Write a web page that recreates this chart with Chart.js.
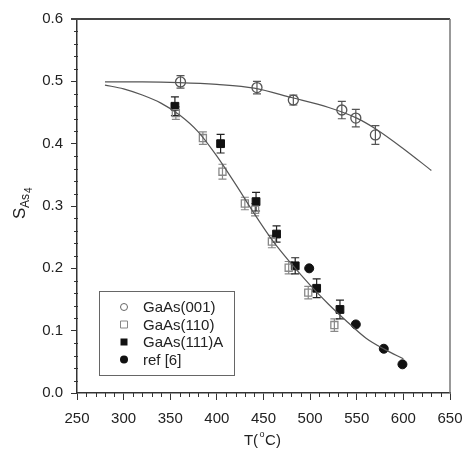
<!DOCTYPE html>
<html>
<head>
<meta charset="utf-8">
<script src="https://cdn.jsdelivr.net/npm/chart.js@4"></script>
<style>
    html, body { margin: 0; padding: 0; background: #fff; }
    canvas { display: block; }
</style>
</head>
<body>
<canvas id="sticking" width="462" height="450"></canvas>
<script>
// GaAs(001)
const t001 = [361, 443, 482, 534, 549, 570];
const s001 = [0.499, 0.490, 0.470, 0.454, 0.441, 0.414];
const err001 = [0.010, 0.010, 0.008, 0.014, 0.014, 0.015];

// GaAs(110)
const t110 = [356, 385, 406, 430, 441, 459, 477, 498, 526];
const s110 = [0.449, 0.409, 0.355, 0.304, 0.294, 0.243, 0.201, 0.161, 0.109];
const err110 = [0.010, 0.010, 0.012, 0.010, 0.010, 0.010, 0.010, 0.010, 0.010];

// GaAs(111)A
const t111 = [355, 404, 442, 464, 484, 507, 532];
const s111 = [0.460, 0.400, 0.307, 0.255, 0.204, 0.168, 0.134];
const err111 = [0.015, 0.015, 0.015, 0.013, 0.013, 0.015, 0.015];

// ref [6]
const tRef = [499, 549, 579, 599];
const sRef = [0.200, 0.110, 0.071, 0.046];

// fitted curves
const fitUpperT = [280, 320, 360, 400, 440, 480, 520, 550, 570, 600, 630];
const fitUpperS = [0.499, 0.499, 0.498, 0.495, 0.489, 0.474, 0.458, 0.441, 0.424, 0.392, 0.357];
const fitLowerT = [280, 300, 320, 340, 360, 380, 400, 420, 440, 460, 480, 500, 520, 540, 560, 580, 600];
const fitLowerS = [0.494, 0.488, 0.478, 0.465, 0.446, 0.419, 0.380, 0.335, 0.288, 0.244, 0.207, 0.173, 0.142, 0.114, 0.088, 0.070, 0.055];

const xTicks = [250, 300, 350, 400, 450, 500, 550, 600, 650];
const yTicks = [0.0, 0.1, 0.2, 0.3, 0.4, 0.5, 0.6];

const FONT = "'Liberation Sans', Arial, Helvetica, sans-serif";
const INK = "#222";

function pts(xs, ys) {
    return xs.map((x, i) => ({ x: x, y: ys[i] }));
}

// vertical error bars with caps, drawn underneath the markers
const errorBars = {
    id: "errorBars",
    beforeDatasetsDraw(chart) {
        const ctx = chart.ctx;
        const xs = chart.scales.x, ys = chart.scales.y;
        chart.data.datasets.forEach(ds => {
            if (!ds.errors) return;
            ctx.save();
            ctx.strokeStyle = ds.errorColor;
            ctx.lineWidth = 1.2;
            ds.data.forEach((p, i) => {
                const px = xs.getPixelForValue(p.x);
                const top = ys.getPixelForValue(p.y + ds.errors[i]);
                const bot = ys.getPixelForValue(p.y - ds.errors[i]);
                ctx.beginPath();
                ctx.moveTo(px, top); ctx.lineTo(px, bot);
                ctx.moveTo(px - 4, top); ctx.lineTo(px + 4, top);
                ctx.moveTo(px - 4, bot); ctx.lineTo(px + 4, bot);
                ctx.stroke();
            });
            ctx.restore();
        });
    }
};

// frame, minor ticks, axis titles and legend box
const decorations = {
    id: "decorations",
    afterDraw(chart) {
        const ctx = chart.ctx;
        const a = chart.chartArea;
        const xs = chart.scales.x, ys = chart.scales.y;
        ctx.save();

        // top and right frame
        ctx.strokeStyle = "#444";
        ctx.lineWidth = 2;
        ctx.beginPath();
        ctx.moveTo(a.left - 6, a.top); ctx.lineTo(a.right, a.top);
        ctx.stroke();
        ctx.strokeStyle = "#777";
        ctx.lineWidth = 1.5;
        ctx.beginPath();
        ctx.moveTo(a.right, a.top); ctx.lineTo(a.right, a.bottom);
        ctx.stroke();

        // minor ticks
        ctx.strokeStyle = "#333";
        ctx.lineWidth = 1;
        ctx.beginPath();
        for (let v = 260; v < 650; v += 10) {
            if (v % 50 === 0) continue;
            const px = Math.round(xs.getPixelForValue(v)) + 0.5;
            ctx.moveTo(px, a.bottom); ctx.lineTo(px, a.bottom + 4);
        }
        for (let k = 1; k < 30; k++) {
            if (k % 5 === 0) continue;
            const py = Math.round(ys.getPixelForValue(k * 0.02)) + 0.5;
            ctx.moveTo(a.left - 3, py); ctx.lineTo(a.left + 1, py);
        }
        ctx.stroke();

        // y title: S with As4 subscript
        ctx.fillStyle = "#222";
        ctx.translate(25, 206);
        ctx.rotate(-Math.PI / 2);
        ctx.textBaseline = "alphabetic";
        ctx.font = "17px " + FONT;
        ctx.fillText("S", -13, 0);
        ctx.font = "12px " + FONT;
        ctx.fillText("As", -2, 4);
        ctx.font = "10px " + FONT;
        ctx.fillText("4", 13, 7);
        ctx.setTransform(1, 0, 0, 1, 0, 0);

        // x title
        ctx.font = "15px " + FONT;
        ctx.textAlign = "center";
        ctx.fillText("T(", 251, 445);
        ctx.fillText("C)", 273, 445);
        ctx.font = "9px " + FONT;
        ctx.fillText("o", 262, 437);

        // legend
        const lx = 99, ly = 291, lw = 135, lh = 84;
        ctx.strokeStyle = "#666";
        ctx.lineWidth = 1;
        ctx.strokeRect(lx + 0.5, ly + 0.5, lw, lh);
        const rows = [
            { text: "GaAs(001)", shape: "circle", fill: false, color: "#666" },
            { text: "GaAs(110)", shape: "square", fill: false, color: "#888" },
            { text: "GaAs(111)A", shape: "square", fill: true, color: "#111" },
            { text: "ref [6]", shape: "circle", fill: true, color: "#111" }
        ];
        ctx.font = "15px " + FONT;
        ctx.textAlign = "left";
        ctx.textBaseline = "middle";
        rows.forEach((r, i) => {
            const cy = 307 + i * 17.5;
            const cx = 124;
            ctx.beginPath();
            if (r.shape === "circle") {
                ctx.arc(cx, cy, r.fill ? 4 : 3.5, 0, Math.PI * 2);
            } else {
                ctx.rect(cx - 3.5, cy - 3.5, 7, 7);
            }
            if (r.fill) {
                ctx.fillStyle = r.color;
                ctx.fill();
            } else {
                ctx.strokeStyle = r.color;
                ctx.lineWidth = 1;
                ctx.stroke();
            }
            ctx.fillStyle = "#222";
            ctx.fillText(r.text, 143, cy + 1);
        });

        ctx.restore();
    }
};

const ctx = document.getElementById("sticking").getContext("2d");
new Chart(ctx, {
    type: "scatter",
    data: {
        datasets: [
            {
                label: "fit (001)",
                data: pts(fitUpperT, fitUpperS),
                showLine: true,
                borderColor: "#555",
                borderWidth: 1.2,
                pointRadius: 0,
                cubicInterpolationMode: "monotone"
            },
            {
                label: "fit",
                data: pts(fitLowerT, fitLowerS),
                showLine: true,
                borderColor: "#555",
                borderWidth: 1.2,
                pointRadius: 0,
                cubicInterpolationMode: "monotone"
            },
            {
                label: "GaAs(001)",
                data: pts(t001, s001),
                errors: err001,
                errorColor: "#555",
                pointStyle: "circle",
                pointRadius: 5,
                borderColor: "#555",
                borderWidth: 1.3,
                backgroundColor: "rgba(0,0,0,0)"
            },
            {
                label: "GaAs(110)",
                data: pts(t110, s110),
                errors: err110,
                errorColor: "#888",
                pointStyle: "rect",
                pointRadius: 5,
                borderColor: "#888",
                borderWidth: 1.3,
                backgroundColor: "rgba(0,0,0,0)"
            },
            {
                label: "GaAs(111)A",
                data: pts(t111, s111),
                errors: err111,
                errorColor: "#222",
                pointStyle: "rect",
                pointRadius: 5.5,
                borderColor: "#111",
                borderWidth: 1,
                backgroundColor: "#111"
            },
            {
                label: "ref [6]",
                data: pts(tRef, sRef),
                pointStyle: "circle",
                pointRadius: 4.5,
                borderColor: "#111",
                borderWidth: 1,
                backgroundColor: "#111"
            }
        ]
    },
    options: {
        responsive: false,
        animation: false,
        devicePixelRatio: 1,
        layout: { padding: { left: 0, top: 19, right: 0, bottom: 0 } },
        plugins: {
            legend: { display: false },
            tooltip: { enabled: false }
        },
        scales: {
            x: {
                type: "linear",
                min: 250,
                max: 650,
                afterBuildTicks: scale => { scale.ticks = xTicks.map(v => ({ value: v })); },
                afterFit: scale => {
                    scale.height = 57;
                    scale.paddingLeft = 0;
                    scale.paddingRight = 12;
                },
                ticks: {
                    color: INK,
                    font: { family: FONT, size: 15 },
                    padding: 10,
                    maxRotation: 0
                },
                grid: { drawOnChartArea: false, tickLength: 7, tickColor: "#333", tickWidth: 1 },
                border: { display: true, color: "#333", width: 1.5 }
            },
            y: {
                type: "linear",
                min: 0,
                max: 0.6,
                afterBuildTicks: scale => { scale.ticks = yTicks.map(v => ({ value: v })); },
                afterFit: scale => { scale.width = 77; },
                ticks: {
                    color: INK,
                    font: { family: FONT, size: 15 },
                    padding: 8,
                    callback: v => v.toFixed(1)
                },
                grid: { drawOnChartArea: false, tickLength: 6, tickColor: "#333", tickWidth: 1 },
                border: { display: true, color: "#333", width: 1.5 }
            }
        }
    },
    plugins: [errorBars, decorations]
});
</script>
</body>
</html>
